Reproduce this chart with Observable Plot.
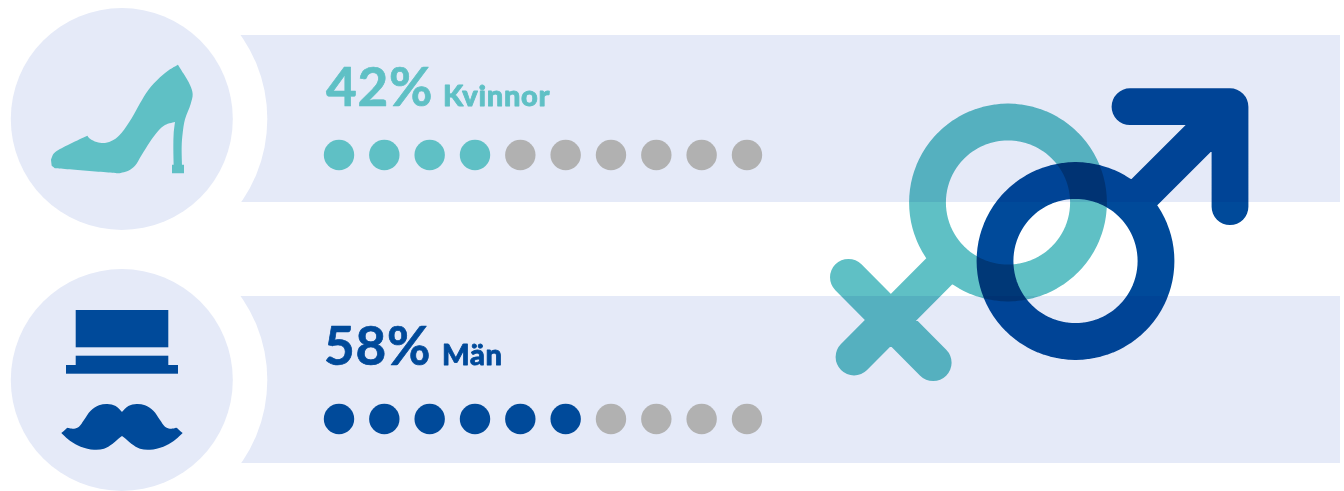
<!DOCTYPE html>
<html><head><meta charset="utf-8">
<script src="https://cdn.jsdelivr.net/npm/d3@7"></script>
<script src="https://cdn.jsdelivr.net/npm/@observablehq/plot@0.6"></script>
<style>html,body{margin:0;padding:0;background:#fff}svg{display:block}</style>
</head><body><div id="chart"></div>
<script>
const groups = ["Kvinnor", "Män"];
const shares = [42, 58];
const filledDots = [4, 6];
const dotSlots = [0,1,2,3,4,5,6,7,8,9];
const groupColors = ["#5FC0C5", "#004A9A"];
const emptyColor = "#B1B1B1";
const bandColor = "#E5EAF8";

// Outlines (reference pixels x 3). A repeated point is a sharp corner.
const shoe = [[153,480],[160,462],[175,450],[262,407],[262,407],[270,416],[290,426],[315,429],[340,420],[365,398],[395,355],[420,310],[445,270],[480,232],[510,208],[534,194],[534,194],[550,220],[570,255],[578,282],[572,312],[555,358],[548,400],[545,440],[546,494],[546,494],[552,494],[552,494],[552,520],[552,520],[516,520],[516,520],[516,494],[516,494],[521,494],[521,494],[520,440],[521,400],[525,366],[525,366],[495,375],[475,392],[450,425],[425,465],[405,497],[385,512],[355,520],[355,520],[165,505],[165,505],[155,497]];
const moustache = [[366,486],[366,486],[385,468],[410,462],[435,466],[460,482],[480,510],[495,530],[510,536],[530,533],[530,533],[548,549],[548,549],[520,574],[490,590],[450,599],[420,596],[395,582],[375,565],[366,558],[366,558],[357,565],[337,582],[312,596],[282,599],[242,590],[212,574],[184,549],[184,549],[202,533],[202,533],[222,536],[237,530],[252,510],[272,482],[297,466],[322,462],[347,468],[366,486]];
const hat = [[75.7,168.3,310,347.3],[75.7,168.3,355.7,365],[66,178,365,373.7]];

// Layout of rows in the picture
const rowBands = [[35,202],[296,463]];
const rowCentres = [119,380];
const rowDotY = [155,419];
const rowShareY = [89.5,348];
const rowShareX = [326,324];
const rowLabelX = [443,442];
const rowLabelY = [97,356];

const ring = (cx, cy, r) => d3.range(0, 97).map(i => [cx + r * Math.cos(i * Math.PI / 48), cy + r * Math.sin(i * Math.PI / 48)]);
const gap = [NaN, NaN];
const femaleSymbol = [...ring(1008,202.5,80.5), gap, [951,259.5], [854,357], gap, [848.4,277.3], [933.2,362.7]];
const maleSymbol = [...ring(1075.5,261,80.5), gap, [1132.5,204], [1230,106.7], gap, [1130,106.7], [1230,106.7], [1230,206.7]];

const dots = groups.flatMap((g, r) => dotSlots.map(i => ({row: r, i, on: i < filledDots[r]})));
const nudge = {dx: -0.5, dy: -0.5};

const plot = Plot.plot({
  width: 1344, height: 491, margin: 0,
  x: {type: "identity", axis: null},
  y: {type: "identity", axis: null},
  style: {background: "transparent", letterSpacing: "0.7px"},
  marks: [
    Plot.rect(rowBands, {x1: 150, x2: 1340, y1: d => d[0], y2: d => d[1], fill: bandColor}),
    Plot.dot(rowCentres, {x: 121.8, y: d => d, r: 145.5, fill: "#fff", ...nudge}),
    Plot.dot(rowCentres, {x: 121.8, y: d => d, r: 111, fill: bandColor, ...nudge}),
    Plot.line(shoe, {x: d => d[0] / 3, y: d => d[1] / 3, fill: groupColors[0], stroke: "none", curve: "catmull-rom", ...nudge}),
    Plot.rect(hat, {x1: d => d[0], x2: d => d[1], y1: d => d[2], y2: d => d[3], fill: groupColors[1]}),
    Plot.line(moustache, {x: d => d[0] / 3, y: d => d[1] / 3 + 250, fill: groupColors[1], stroke: "none", curve: "catmull-rom", ...nudge}),
    Plot.text(groups, {x: (d, i) => rowShareX[i], y: (d, i) => rowShareY[i], text: (d, i) => shares[i] + "%", fill: (d, i) => groupColors[i], stroke: (d, i) => groupColors[i], strokeWidth: 0.7, textAnchor: "start", fontFamily: "Lato", fontWeight: 700, fontSize: 53, ...nudge}),
    Plot.text(groups, {x: (d, i) => rowLabelX[i], y: (d, i) => rowLabelY[i], text: d => d, fill: (d, i) => groupColors[i], stroke: (d, i) => groupColors[i], strokeWidth: 0.8, textAnchor: "start", fontFamily: "Lato", fontWeight: 900, fontSize: 29, ...nudge}),
    Plot.dot(dots, {x: d => 339 + d.i * 45.33, y: d => rowDotY[d.row], r: 15.2, fill: d => d.on ? groupColors[d.row] : emptyColor, ...nudge}),
    Plot.line(femaleSymbol, {x: d => d[0], y: d => d[1], stroke: groupColors[0], strokeWidth: 36.8, strokeLinecap: "round", strokeLinejoin: "round", mixBlendMode: "multiply", ...nudge}),
    Plot.line(maleSymbol, {x: d => d[0], y: d => d[1], stroke: groupColors[1], strokeWidth: 36.8, strokeLinecap: "round", strokeLinejoin: "round", mixBlendMode: "multiply", ...nudge})
  ]
});
document.getElementById("chart").append(plot);
</script></body></html>
